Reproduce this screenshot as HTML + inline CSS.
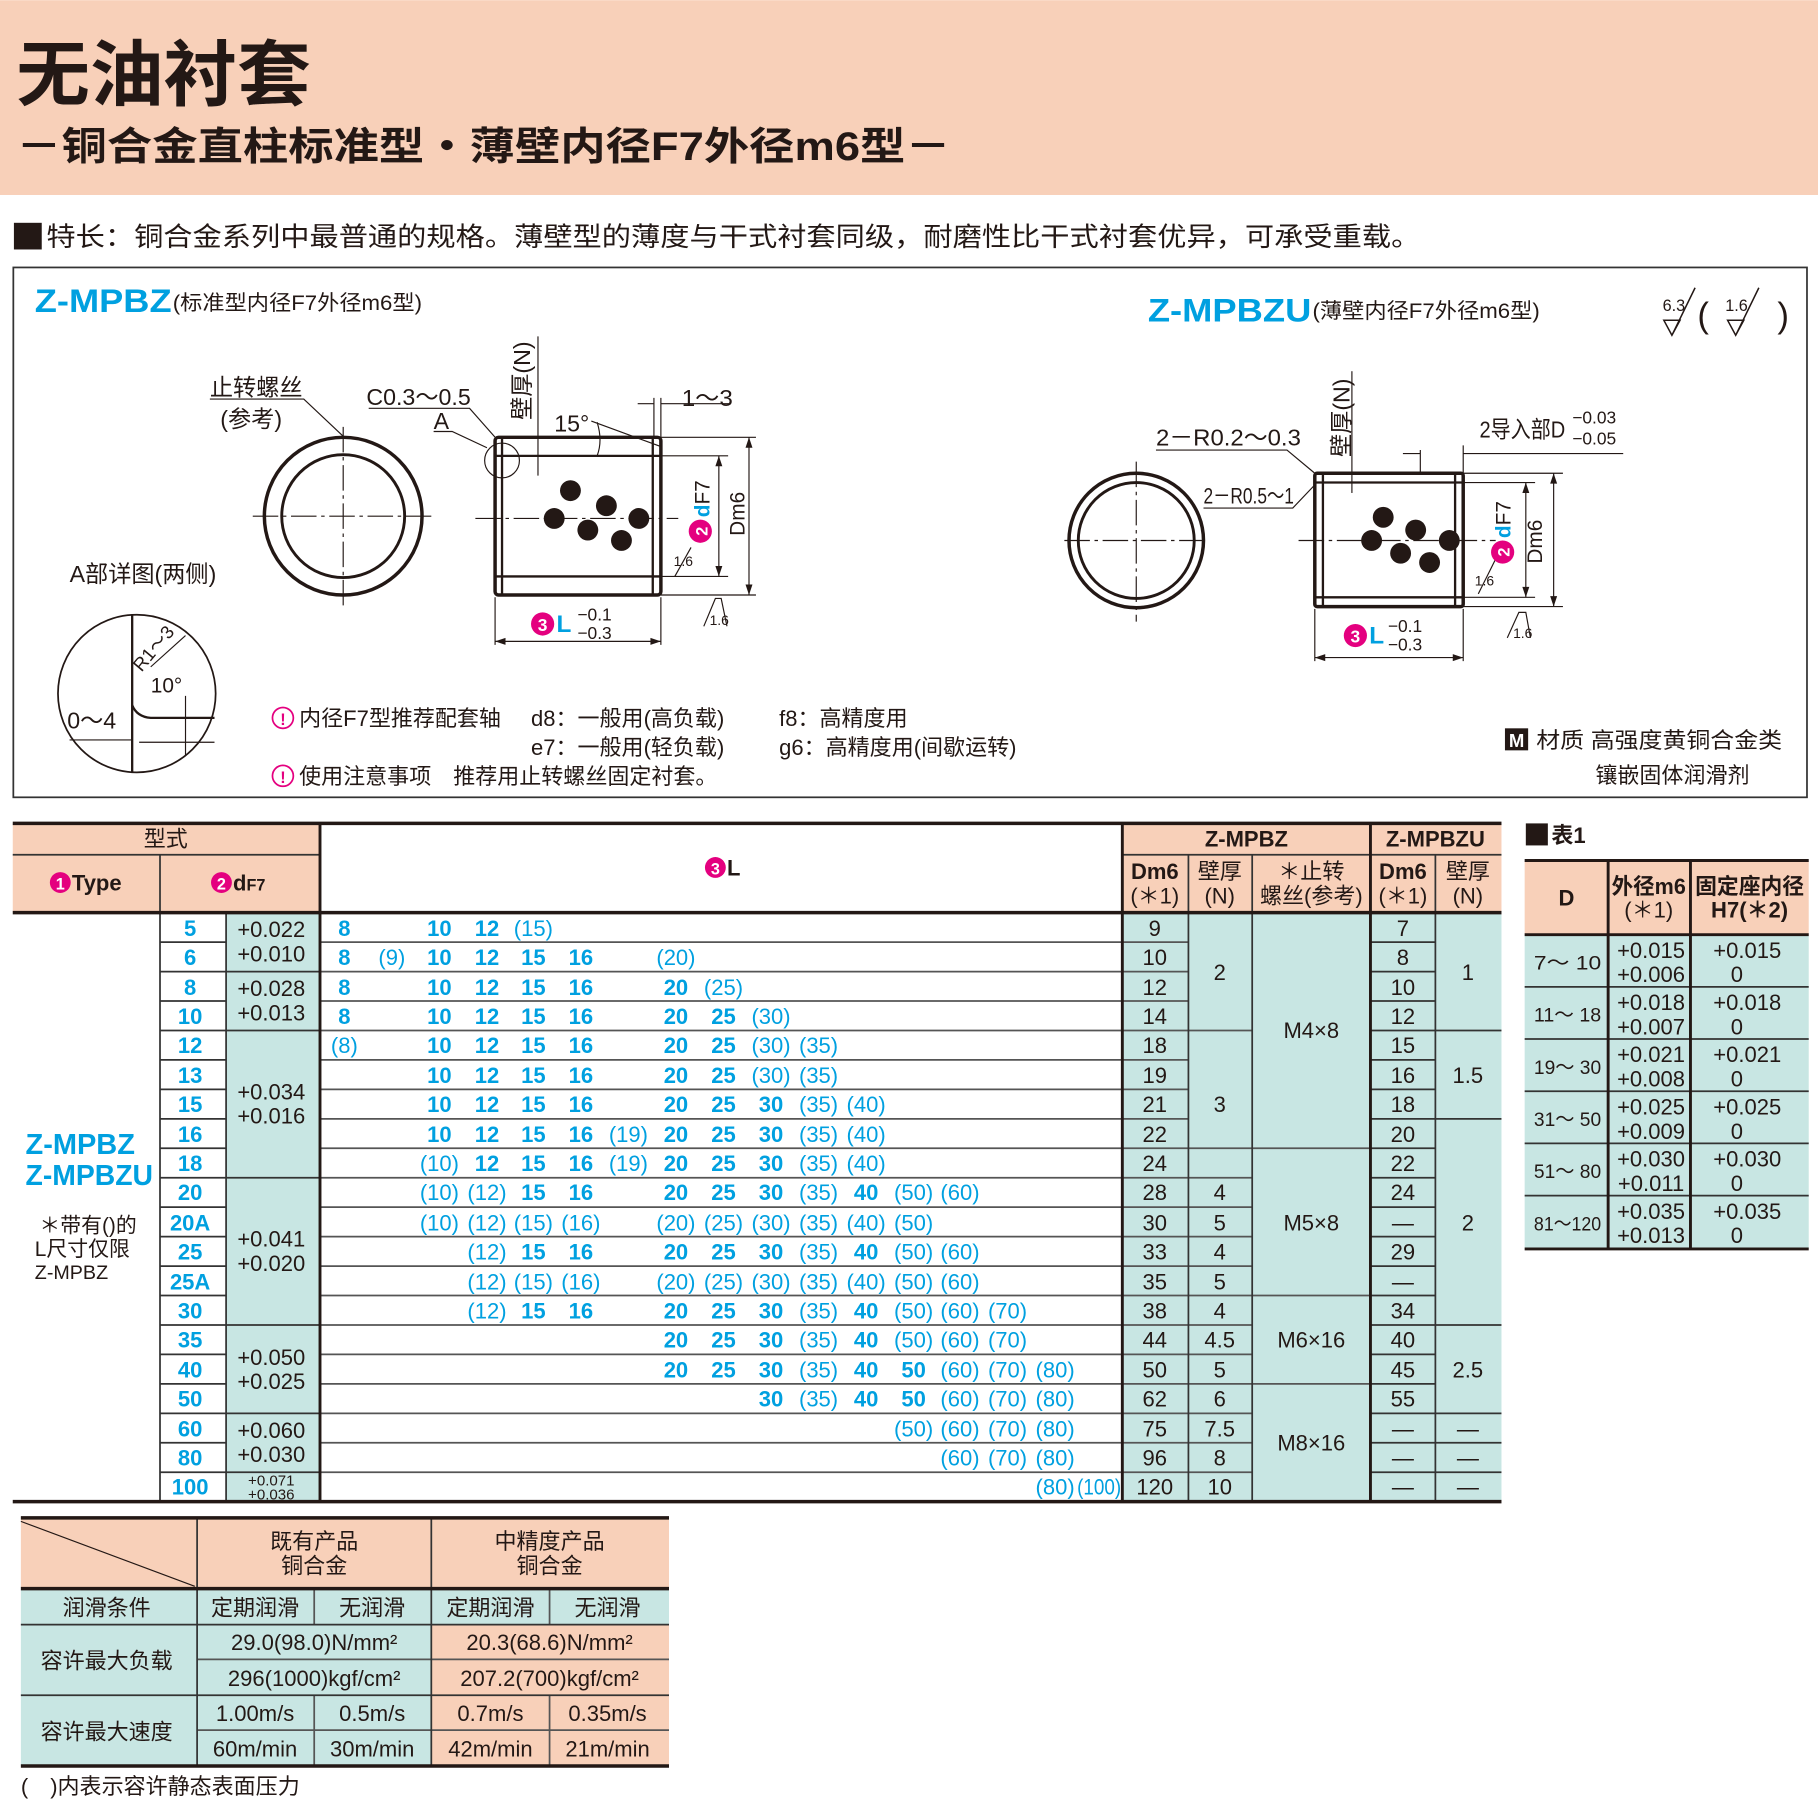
<!DOCTYPE html>
<html><head><meta charset="utf-8"><style>
html,body{margin:0;padding:0;background:#fff;}
svg{display:block;}
text{font-family:"Liberation Sans","Noto Sans CJK SC",sans-serif;}
.c{fill:#00a0e0;text-anchor:middle;font-size:19px;}
.b{font-weight:bold;}
.m{text-anchor:middle;}
</style></head><body>
<svg width="1818" height="1801" viewBox="0 0 1568 1553" xmlns="http://www.w3.org/2000/svg">
<!-- header -->
<rect x="0" y="0" width="1568" height="168" fill="#f8d0b9"/>
<text x="14" y="86" font-size="62" font-weight="bold" fill="#231815" textLength="254" lengthAdjust="spacingAndGlyphs">无油衬套</text>
<text x="14" y="138" font-size="34" font-weight="bold" fill="#231815" textLength="806" lengthAdjust="spacingAndGlyphs">－铜合金直柱标准型・薄壁内径F7外径m6型－</text>
<rect x="12" y="192" width="24" height="23" fill="#231815"/>
<text x="40" y="212" font-size="23" fill="#231815" textLength="1185" lengthAdjust="spacingAndGlyphs">特长：铜合金系列中最普通的规格。薄壁型的薄度与干式衬套同级，耐磨性比干式衬套优异，可承受重载。</text>
<!-- diagram box -->
<rect x="11.5" y="230.5" width="1547" height="457" fill="none" stroke="#333" stroke-width="1.5"/>
<text x="30" y="269" font-size="28" font-weight="bold" fill="#00a0e0" textLength="118" lengthAdjust="spacingAndGlyphs">Z-MPBZ</text>
<text x="149" y="267" font-size="18" fill="#231815" textLength="215" lengthAdjust="spacingAndGlyphs">(标准型内径F7外径m6型)</text>
<text x="990" y="277" font-size="28" font-weight="bold" fill="#00a0e0" textLength="141" lengthAdjust="spacingAndGlyphs">Z-MPBZU</text>
<text x="1132" y="274" font-size="18" fill="#231815" textLength="196" lengthAdjust="spacingAndGlyphs">(薄壁内径F7外径m6型)</text>
<!-- roughness -->
<g stroke="#231815" stroke-width="1.3" fill="none">
<path d="M1435 276 L1442 289 L1449 276 Z M1442 289 L1462 248"/>
<path d="M1490 276 L1497 289 L1504 276 Z M1497 289 L1517 248"/>
</g>
<text x="1434" y="268" font-size="14" fill="#231815">6.3</text>
<text x="1488" y="268" font-size="14" fill="#231815">1.6</text>
<text x="1464" y="282" font-size="30" fill="#231815">(</text>
<text x="1533" y="282" font-size="30" fill="#231815">)</text>

<!-- left diagram -->
<g stroke="#231815" fill="none">
<circle cx="296" cy="445" r="68" stroke-width="3"/>
<circle cx="296" cy="445" r="53" stroke-width="2.5"/>
<path d="M218 445 H374 M296 368 V523" stroke-width="1" stroke-dasharray="22,4,3,4"/>
<rect x="427" y="377" width="143" height="136" rx="3" stroke-width="3"/>
<path d="M427 393 H570 M427 497 H570 M433 377 V513 M563 377 V513" stroke-width="2"/>
<path d="M410 447 H585" stroke-width="1" stroke-dasharray="22,4,3,4"/>
<circle cx="433" cy="397" r="15" stroke-width="1"/>
<path d="M570 393 H628 M570 377 H652 M570 497 H628 M570 513 H652" stroke-width="1"/>
<path d="M620 393 V497 M646 377 V513" stroke-width="1"/>
<path d="M427 515 V556 M570 515 V556 M427 553 H570" stroke-width="1"/>
<path d="M464 290 V410" stroke-width="1"/>
<path d="M564 343 V377 M570 343 V377 M550 348 H564 M570 348 H630" stroke-width="1"/>
<path d="M318 352 H405 L427 377 M374 372 L390 372 L420 386" stroke-width="1"/>
<path d="M181 344 H262 L298 378" stroke-width="1"/>
<path d="M515 364 Q520 380 515 393" stroke-width="1"/>
<path d="M510 363 L570 385" stroke-width="1"/>
<path d="M607 540 L617 516 L622 516 L627 540" stroke-width="1"/>
<path d="M582 497 L596 472" stroke-width="1"/>
<!-- detail circle -->
<circle cx="118" cy="598" r="68" stroke-width="1.5"/>
<path d="M114 530 V666" stroke-width="2"/>
<path d="M114 608 Q118 618 130 619 L185 619" stroke-width="2"/>
<path d="M160 600 V652 M120 640 H185 M130 575 L160 548" stroke-width="1"/>
<path d="M60 638 H114" stroke-width="1"/>
</g>
<g fill="#231815">
<circle cx="492" cy="423" r="9"/><circle cx="523" cy="436" r="9"/><circle cx="478" cy="447" r="9"/>
<circle cx="507" cy="457" r="9"/><circle cx="536" cy="466" r="9"/><circle cx="551" cy="447" r="9"/>
<path d="M620 393 l-3 9 h6z M620 497 l-3 -9 h6z M646 377 l-3 9 h6z M646 513 l-3 -9 h6z M427 553 l9 -3 v6z M570 553 l-9 -3 v6z"/>
</g>
<text x="181" y="341" font-size="20" fill="#231815">止转螺丝</text>
<text x="190" y="368" font-size="20" fill="#231815">(参考)</text>
<text x="316" y="349" font-size="20" fill="#231815" textLength="90" lengthAdjust="spacingAndGlyphs">C0.3～0.5</text>
<text x="374" y="370" font-size="20" fill="#231815">A</text>
<text x="478" y="372" font-size="20" fill="#231815">15°</text>
<text x="588" y="350" font-size="20" fill="#231815" textLength="44" lengthAdjust="spacingAndGlyphs">1～3</text>
<text transform="translate(457,362) rotate(-90)" font-size="20" fill="#231815">壁厚(N)</text>
<text transform="translate(642,462) rotate(-90)" font-size="18" fill="#231815">Dm6</text>
<circle cx="604" cy="458" r="10" fill="#e4007f"/>
<text transform="translate(610,458) rotate(-90)" font-size="14" font-weight="bold" fill="#fff" class="m">2</text>
<text transform="translate(612,446) rotate(-90)" font-size="18" fill="#231815"><tspan fill="#00a0e0" font-weight="bold">d</tspan>F7</text>
<text x="581" y="488" font-size="12" fill="#231815">1.6</text>
<text x="612" y="539" font-size="12" fill="#231815">1.6</text>
<circle cx="468" cy="538" r="10" fill="#e4007f"/>
<text x="468" y="544" font-size="15" font-weight="bold" fill="#fff" class="m">3</text>
<text x="480" y="545" font-size="21" font-weight="bold" fill="#00a0e0">L</text>
<text x="498" y="535" font-size="15" fill="#231815">−0.1</text>
<text x="498" y="551" font-size="15" fill="#231815">−0.3</text>
<text x="60" y="502" font-size="20" fill="#231815">A部详图(两侧)</text>
<text transform="translate(122,580) rotate(-50)" font-size="16" fill="#231815">R1～3</text>
<text x="130" y="597" font-size="18" fill="#231815">10°</text>
<text x="58" y="628" font-size="20" fill="#231815">0～4</text>

<!-- notes -->
<g font-size="19" fill="#231815">
<circle cx="244" cy="619" r="9" fill="none" stroke="#e4007f" stroke-width="1.5"/>
<text x="244" y="625" font-size="14" font-weight="bold" fill="#e4007f" class="m">!</text>
<circle cx="244" cy="669" r="9" fill="none" stroke="#e4007f" stroke-width="1.5"/>
<text x="244" y="675" font-size="14" font-weight="bold" fill="#e4007f" class="m">!</text>
<text x="258" y="626">内径F7型推荐配套轴</text>
<text x="458" y="626">d8：一般用(高负载)</text>
<text x="458" y="651">e7：一般用(轻负载)</text>
<text x="672" y="626">f8：高精度用</text>
<text x="672" y="651">g6：高精度用(间歇运转)</text>
<text x="258" y="676">使用注意事项　推荐用止转螺丝固定衬套。</text>
<rect x="1298" y="628" width="20" height="19" fill="#231815"/>
<text x="1308" y="644" font-size="16" font-weight="bold" fill="#fff" class="m">M</text>
<text x="1325" y="645" textLength="212" lengthAdjust="spacingAndGlyphs">材质  高强度黄铜合金类</text>
<text x="1376" y="675">镶嵌固体润滑剂</text>
</g>

<!-- right diagram -->
<g stroke="#231815" fill="none">
<circle cx="980" cy="466" r="58" stroke-width="3"/>
<circle cx="980" cy="466" r="50" stroke-width="2.5"/>
<path d="M918 466 H1042 M980 398 V536" stroke-width="1" stroke-dasharray="22,4,3,4"/>
<rect x="1134" y="408" width="128" height="115" rx="2" stroke-width="3"/>
<path d="M1134 416 H1262 M1134 515 H1262 M1141 408 V523 M1255 408 V523" stroke-width="2"/>
<path d="M1120 466 H1290" stroke-width="1" stroke-dasharray="22,4,3,4"/>
<path d="M1262 416 H1324 M1262 408 H1348 M1262 515 H1324 M1262 523 H1348" stroke-width="1"/>
<path d="M1316 416 V515 M1340 408 V523" stroke-width="1"/>
<path d="M1134 525 V570 M1262 525 V570 M1134 567 H1262" stroke-width="1"/>
<path d="M1166 320 V425" stroke-width="1"/>
<path d="M1225 388 V408 M1262 384 V408 M1210 391 H1225 M1262 391 H1400" stroke-width="1"/>
<path d="M997 388 H1110 L1134 408 M1038 438 H1115 L1134 418" stroke-width="1"/>
<path d="M1300 550 L1310 528 L1316 528 L1320 550" stroke-width="1"/>
<path d="M1275 512 L1290 482" stroke-width="1"/>
</g>
<g fill="#231815">
<circle cx="1193" cy="446" r="9"/><circle cx="1221" cy="457" r="9"/><circle cx="1183" cy="466" r="9"/>
<circle cx="1250" cy="466" r="9"/><circle cx="1208" cy="477" r="9"/><circle cx="1233" cy="485" r="9"/>
<path d="M1316 416 l-3 9 h6z M1316 515 l-3 -9 h6z M1340 408 l-3 9 h6z M1340 523 l-3 -9 h6z M1134 567 l9 -3 v6z M1262 567 l-9 -3 v6z"/>
</g>
<text x="997" y="384" font-size="20" fill="#231815" textLength="125" lengthAdjust="spacingAndGlyphs">2－R0.2～0.3</text>
<text x="1038" y="434" font-size="19" fill="#231815" textLength="78" lengthAdjust="spacingAndGlyphs">2－R0.5～1</text>
<text transform="translate(1164,394) rotate(-90)" font-size="20" fill="#231815">壁厚(N)</text>
<text x="1276" y="377" font-size="20" fill="#231815" textLength="74" lengthAdjust="spacingAndGlyphs">2导入部D</text>
<text x="1356" y="365" font-size="15" fill="#231815">−0.03</text>
<text x="1356" y="383" font-size="15" fill="#231815">−0.05</text>
<text transform="translate(1330,486) rotate(-90)" font-size="18" fill="#231815">Dm6</text>
<circle cx="1296" cy="476" r="10" fill="#e4007f"/>
<text transform="translate(1302,476) rotate(-90)" font-size="14" font-weight="bold" fill="#fff" class="m">2</text>
<text transform="translate(1303,464) rotate(-90)" font-size="18" fill="#231815"><tspan fill="#00a0e0" font-weight="bold">d</tspan>F7</text>
<text x="1272" y="505" font-size="12" fill="#231815">1.6</text>
<text x="1305" y="550" font-size="12" fill="#231815">1.6</text>
<circle cx="1169" cy="548" r="10" fill="#e4007f"/>
<text x="1169" y="554" font-size="15" font-weight="bold" fill="#fff" class="m">3</text>
<text x="1181" y="555" font-size="21" font-weight="bold" fill="#00a0e0">L</text>
<text x="1197" y="545" font-size="15" fill="#231815">−0.1</text>
<text x="1197" y="561" font-size="15" fill="#231815">−0.3</text>

<!-- MAIN TABLE -->
<rect x="11" y="710" width="265" height="77" fill="#f8d0b9"/>
<rect x="968" y="710" width="327" height="77" fill="#f8d0b9"/>
<rect x="276" y="710" width="692" height="77" fill="#fff"/>
<rect x="195" y="787" width="81" height="508" fill="#c8e6e3"/>
<rect x="968" y="787" width="327" height="508" fill="#c8e6e3"/>
<g stroke="#333" stroke-width="1.5">
<path d="M11 737 H276 M968 737 H1295"/>
<path d="M138 812.4 H195 M138 837.8 H276 M138 863.2 H195 M138 888.6 H276 M138 914 H195 M138 939.4 H195 M138 964.8 H195 M138 990.2 H195 M138 1015.6 H276 M138 1041 H195 M138 1066.4 H195 M138 1091.8 H195 M138 1117.2 H195 M138 1142.6 H276 M138 1168 H195 M138 1193.4 H195 M138 1218.8 H276 M138 1244.2 H195 M138 1269.6 H276"/>
<path d="M276 812.4 H1025 M276 837.8 H1025 M276 863.2 H1025 M276 888.6 H1080 M276 914 H1025 M276 939.4 H1025 M276 964.8 H1025 M276 990.2 H1182 M276 1015.6 H1080 M276 1041 H1080 M276 1066.4 H1080 M276 1091.8 H1080 M276 1117.2 H1182 M276 1142.6 H1080 M276 1168 H1080 M276 1193.4 H1182 M276 1218.8 H1080 M276 1244.2 H1080 M276 1269.6 H1080" stroke="#555"/>
<path d="M1182 812.4 H1238 M1182 837.8 H1238 M1182 863.2 H1238 M1182 888.6 H1295 M1182 914 H1238 M1182 939.4 H1238 M1182 964.8 H1295 M1182 990.2 H1238 M1182 1015.6 H1238 M1182 1041 H1238 M1182 1066.4 H1238 M1182 1091.8 H1238 M1182 1117.2 H1238 M1182 1142.6 H1295 M1182 1168 H1238 M1182 1193.4 H1238 M1182 1218.8 H1295 M1182 1244.2 H1295 M1182 1269.6 H1295"/>
<path d="M138 737 V1295 M195 787 V1295 M1025 737 V1295 M1080 737 V1295 M1238 737 V1295"/>
</g>
<g stroke="#231815" stroke-width="2.5">
<path d="M276 710 V1295 M968 710 V1295 M1182 710 V1295"/>
</g>
<g stroke="#231815" stroke-width="3">
<path d="M11 710 H1295 M11 787 H1295 M11 1295 H1295"/>
</g>
<g font-size="19" fill="#231815">
<text x="143" y="730" class="m">型式</text>
<circle cx="52" cy="761" r="9" fill="#e4007f"/><text x="52" y="767" font-size="14" font-weight="bold" fill="#fff" class="m">1</text>
<text x="62" y="768" font-weight="bold">Type</text>
<circle cx="191" cy="761" r="9" fill="#e4007f"/><text x="191" y="767" font-size="14" font-weight="bold" fill="#fff" class="m">2</text>
<text x="201" y="768" font-weight="bold">d<tspan font-size="14">F7</tspan></text>
<circle cx="617" cy="748" r="9" fill="#e4007f"/><text x="617" y="754" font-size="14" font-weight="bold" fill="#fff" class="m">3</text>
<text x="627" y="755" font-weight="bold">L</text>
<text x="1075" y="730" font-weight="bold" class="m">Z-MPBZ</text>
<text x="1238" y="730" font-weight="bold" class="m">Z-MPBZU</text>
<text x="996" y="758" font-weight="bold" class="m">Dm6</text><text x="996" y="779" class="m">(＊1)</text>
<text x="1052" y="758" class="m">壁厚</text><text x="1052" y="779" class="m">(N)</text>
<text x="1131" y="758" class="m">＊止转</text><text x="1131" y="779" class="m">螺丝(参考)</text>
<text x="1210" y="758" font-weight="bold" class="m">Dm6</text><text x="1210" y="779" class="m">(＊1)</text>
<text x="1266" y="758" class="m">壁厚</text><text x="1266" y="779" class="m">(N)</text>
</g>
<text x="22" y="995" font-size="25" font-weight="bold" fill="#00a0e0">Z-MPBZ</text>
<text x="22" y="1022" font-size="25" font-weight="bold" fill="#00a0e0" textLength="110" lengthAdjust="spacingAndGlyphs">Z-MPBZU</text>
<text x="34" y="1063" font-size="18" fill="#231815">＊带有()的</text>
<text x="30" y="1083" font-size="18" fill="#231815">L尺寸仅限</text>
<text x="30" y="1103" font-size="17" fill="#231815">Z-MPBZ</text>
<!-- sizes -->
<g>
<text x="164" y="807" class="c b">5</text><text x="164" y="832" class="c b">6</text><text x="164" y="858" class="c b">8</text><text x="164" y="883" class="c b">10</text><text x="164" y="908" class="c b">12</text><text x="164" y="934" class="c b">13</text><text x="164" y="959" class="c b">15</text><text x="164" y="985" class="c b">16</text><text x="164" y="1010" class="c b">18</text><text x="164" y="1035" class="c b">20</text><text x="164" y="1061" class="c b">20A</text><text x="164" y="1086" class="c b">25</text><text x="164" y="1112" class="c b">25A</text><text x="164" y="1137" class="c b">30</text><text x="164" y="1162" class="c b">35</text><text x="164" y="1188" class="c b">40</text><text x="164" y="1213" class="c b">50</text><text x="164" y="1239" class="c b">60</text><text x="164" y="1264" class="c b">80</text><text x="164" y="1289" class="c b">100</text>
</g>
<!-- tolerances -->
<g font-size="19" fill="#231815">
<text x="234" y="808" class="m">+0.022</text><text x="234" y="829" class="m">+0.010</text>
<text x="234" y="859" class="m">+0.028</text><text x="234" y="880" class="m">+0.013</text>
<text x="234" y="948" class="m">+0.034</text><text x="234" y="969" class="m">+0.016</text>
<text x="234" y="1075" class="m">+0.041</text><text x="234" y="1096" class="m">+0.020</text>
<text x="234" y="1177" class="m">+0.050</text><text x="234" y="1198" class="m">+0.025</text>
<text x="234" y="1240" class="m">+0.060</text><text x="234" y="1261" class="m">+0.030</text>
<text x="234" y="1281" font-size="13" class="m">+0.071</text><text x="234" y="1293" font-size="13" class="m">+0.036</text>
</g>
<!-- L values -->
<g>
<text x="297" y="807" class="c b">8</text><text x="379" y="807" class="c b">10</text><text x="420" y="807" class="c b">12</text><text x="460" y="807" class="c">(15)</text>
<text x="297" y="832" class="c b">8</text><text x="338" y="832" class="c">(9)</text><text x="379" y="832" class="c b">10</text><text x="420" y="832" class="c b">12</text><text x="460" y="832" class="c b">15</text><text x="501" y="832" class="c b">16</text><text x="583" y="832" class="c">(20)</text>
<text x="297" y="858" class="c b">8</text><text x="379" y="858" class="c b">10</text><text x="420" y="858" class="c b">12</text><text x="460" y="858" class="c b">15</text><text x="501" y="858" class="c b">16</text><text x="583" y="858" class="c b">20</text><text x="624" y="858" class="c">(25)</text>
<text x="297" y="883" class="c b">8</text><text x="379" y="883" class="c b">10</text><text x="420" y="883" class="c b">12</text><text x="460" y="883" class="c b">15</text><text x="501" y="883" class="c b">16</text><text x="583" y="883" class="c b">20</text><text x="624" y="883" class="c b">25</text><text x="665" y="883" class="c">(30)</text>
<text x="297" y="908" class="c">(8)</text><text x="379" y="908" class="c b">10</text><text x="420" y="908" class="c b">12</text><text x="460" y="908" class="c b">15</text><text x="501" y="908" class="c b">16</text><text x="583" y="908" class="c b">20</text><text x="624" y="908" class="c b">25</text><text x="665" y="908" class="c">(30)</text><text x="706" y="908" class="c">(35)</text>
<text x="379" y="934" class="c b">10</text><text x="420" y="934" class="c b">12</text><text x="460" y="934" class="c b">15</text><text x="501" y="934" class="c b">16</text><text x="583" y="934" class="c b">20</text><text x="624" y="934" class="c b">25</text><text x="665" y="934" class="c">(30)</text><text x="706" y="934" class="c">(35)</text>
<text x="379" y="959" class="c b">10</text><text x="420" y="959" class="c b">12</text><text x="460" y="959" class="c b">15</text><text x="501" y="959" class="c b">16</text><text x="583" y="959" class="c b">20</text><text x="624" y="959" class="c b">25</text><text x="665" y="959" class="c b">30</text><text x="706" y="959" class="c">(35)</text><text x="747" y="959" class="c">(40)</text>
<text x="379" y="985" class="c b">10</text><text x="420" y="985" class="c b">12</text><text x="460" y="985" class="c b">15</text><text x="501" y="985" class="c b">16</text><text x="542" y="985" class="c">(19)</text><text x="583" y="985" class="c b">20</text><text x="624" y="985" class="c b">25</text><text x="665" y="985" class="c b">30</text><text x="706" y="985" class="c">(35)</text><text x="747" y="985" class="c">(40)</text>
<text x="379" y="1010" class="c">(10)</text><text x="420" y="1010" class="c b">12</text><text x="460" y="1010" class="c b">15</text><text x="501" y="1010" class="c b">16</text><text x="542" y="1010" class="c">(19)</text><text x="583" y="1010" class="c b">20</text><text x="624" y="1010" class="c b">25</text><text x="665" y="1010" class="c b">30</text><text x="706" y="1010" class="c">(35)</text><text x="747" y="1010" class="c">(40)</text>
<text x="379" y="1035" class="c">(10)</text><text x="420" y="1035" class="c">(12)</text><text x="460" y="1035" class="c b">15</text><text x="501" y="1035" class="c b">16</text><text x="583" y="1035" class="c b">20</text><text x="624" y="1035" class="c b">25</text><text x="665" y="1035" class="c b">30</text><text x="706" y="1035" class="c">(35)</text><text x="747" y="1035" class="c b">40</text><text x="788" y="1035" class="c">(50)</text><text x="828" y="1035" class="c">(60)</text>
<text x="379" y="1061" class="c">(10)</text><text x="420" y="1061" class="c">(12)</text><text x="460" y="1061" class="c">(15)</text><text x="501" y="1061" class="c">(16)</text><text x="583" y="1061" class="c">(20)</text><text x="624" y="1061" class="c">(25)</text><text x="665" y="1061" class="c">(30)</text><text x="706" y="1061" class="c">(35)</text><text x="747" y="1061" class="c">(40)</text><text x="788" y="1061" class="c">(50)</text>
<text x="420" y="1086" class="c">(12)</text><text x="460" y="1086" class="c b">15</text><text x="501" y="1086" class="c b">16</text><text x="583" y="1086" class="c b">20</text><text x="624" y="1086" class="c b">25</text><text x="665" y="1086" class="c b">30</text><text x="706" y="1086" class="c">(35)</text><text x="747" y="1086" class="c b">40</text><text x="788" y="1086" class="c">(50)</text><text x="828" y="1086" class="c">(60)</text>
<text x="420" y="1112" class="c">(12)</text><text x="460" y="1112" class="c">(15)</text><text x="501" y="1112" class="c">(16)</text><text x="583" y="1112" class="c">(20)</text><text x="624" y="1112" class="c">(25)</text><text x="665" y="1112" class="c">(30)</text><text x="706" y="1112" class="c">(35)</text><text x="747" y="1112" class="c">(40)</text><text x="788" y="1112" class="c">(50)</text><text x="828" y="1112" class="c">(60)</text>
<text x="420" y="1137" class="c">(12)</text><text x="460" y="1137" class="c b">15</text><text x="501" y="1137" class="c b">16</text><text x="583" y="1137" class="c b">20</text><text x="624" y="1137" class="c b">25</text><text x="665" y="1137" class="c b">30</text><text x="706" y="1137" class="c">(35)</text><text x="747" y="1137" class="c b">40</text><text x="788" y="1137" class="c">(50)</text><text x="828" y="1137" class="c">(60)</text><text x="869" y="1137" class="c">(70)</text>
<text x="583" y="1162" class="c b">20</text><text x="624" y="1162" class="c b">25</text><text x="665" y="1162" class="c b">30</text><text x="706" y="1162" class="c">(35)</text><text x="747" y="1162" class="c b">40</text><text x="788" y="1162" class="c">(50)</text><text x="828" y="1162" class="c">(60)</text><text x="869" y="1162" class="c">(70)</text>
<text x="583" y="1188" class="c b">20</text><text x="624" y="1188" class="c b">25</text><text x="665" y="1188" class="c b">30</text><text x="706" y="1188" class="c">(35)</text><text x="747" y="1188" class="c b">40</text><text x="788" y="1188" class="c b">50</text><text x="828" y="1188" class="c">(60)</text><text x="869" y="1188" class="c">(70)</text><text x="910" y="1188" class="c">(80)</text>
<text x="665" y="1213" class="c b">30</text><text x="706" y="1213" class="c">(35)</text><text x="747" y="1213" class="c b">40</text><text x="788" y="1213" class="c b">50</text><text x="828" y="1213" class="c">(60)</text><text x="869" y="1213" class="c">(70)</text><text x="910" y="1213" class="c">(80)</text>
<text x="788" y="1239" class="c">(50)</text><text x="828" y="1239" class="c">(60)</text><text x="869" y="1239" class="c">(70)</text><text x="910" y="1239" class="c">(80)</text>
<text x="828" y="1264" class="c">(60)</text><text x="869" y="1264" class="c">(70)</text><text x="910" y="1264" class="c">(80)</text>
<text x="910" y="1289" class="c">(80)</text><text x="948" y="1289" class="c" textLength="38" lengthAdjust="spacingAndGlyphs">(100)</text>
</g>
<!-- right cols -->
<g font-size="19" fill="#231815">
<text x="996" y="807" class="m">9</text><text x="996" y="832" class="m">10</text><text x="996" y="858" class="m">12</text><text x="996" y="883" class="m">14</text><text x="996" y="908" class="m">18</text><text x="996" y="934" class="m">19</text><text x="996" y="959" class="m">21</text><text x="996" y="985" class="m">22</text><text x="996" y="1010" class="m">24</text><text x="996" y="1035" class="m">28</text><text x="996" y="1061" class="m">30</text><text x="996" y="1086" class="m">33</text><text x="996" y="1112" class="m">35</text><text x="996" y="1137" class="m">38</text><text x="996" y="1162" class="m">44</text><text x="996" y="1188" class="m">50</text><text x="996" y="1213" class="m">62</text><text x="996" y="1239" class="m">75</text><text x="996" y="1264" class="m">96</text><text x="996" y="1289" class="m">120</text>
<text x="1052" y="845" class="m">2</text><text x="1052" y="959" class="m">3</text>
<text x="1052" y="1035" class="m">4</text><text x="1052" y="1061" class="m">5</text><text x="1052" y="1086" class="m">4</text><text x="1052" y="1112" class="m">5</text><text x="1052" y="1137" class="m">4</text><text x="1052" y="1162" class="m">4.5</text><text x="1052" y="1188" class="m">5</text><text x="1052" y="1213" class="m">6</text><text x="1052" y="1239" class="m">7.5</text><text x="1052" y="1264" class="m">8</text><text x="1052" y="1289" class="m">10</text>
<text x="1131" y="895" class="m">M4×8</text><text x="1131" y="1061" class="m">M5×8</text><text x="1131" y="1162" class="m">M6×16</text><text x="1131" y="1251" class="m">M8×16</text>
<text x="1210" y="807" class="m">7</text><text x="1210" y="832" class="m">8</text><text x="1210" y="858" class="m">10</text><text x="1210" y="883" class="m">12</text><text x="1210" y="908" class="m">15</text><text x="1210" y="934" class="m">16</text><text x="1210" y="959" class="m">18</text><text x="1210" y="985" class="m">20</text><text x="1210" y="1010" class="m">22</text><text x="1210" y="1035" class="m">24</text><text x="1210" y="1061" class="m">—</text><text x="1210" y="1086" class="m">29</text><text x="1210" y="1112" class="m">—</text><text x="1210" y="1137" class="m">34</text><text x="1210" y="1162" class="m">40</text><text x="1210" y="1188" class="m">45</text><text x="1210" y="1213" class="m">55</text><text x="1210" y="1239" class="m">—</text><text x="1210" y="1264" class="m">—</text><text x="1210" y="1289" class="m">—</text>
<text x="1266" y="845" class="m">1</text><text x="1266" y="934" class="m">1.5</text><text x="1266" y="1061" class="m">2</text><text x="1266" y="1188" class="m">2.5</text>
<text x="1266" y="1239" class="m">—</text><text x="1266" y="1264" class="m">—</text><text x="1266" y="1289" class="m">—</text>
</g>

<!-- TABLE 1 -->
<rect x="1316" y="710" width="19" height="19" fill="#231815"/>
<text x="1338" y="727" font-size="19" font-weight="bold" fill="#231815">表1</text>
<rect x="1315" y="742" width="245" height="64" fill="#f8d0b9"/>
<rect x="1315" y="806" width="245" height="271" fill="#c8e6e3"/>
<g stroke="#333" stroke-width="1.5">
<path d="M1315 851 H1560 M1315 896 H1560 M1315 941 H1560 M1315 986 H1560 M1315 1031 H1560"/>
</g>
<g stroke="#231815" stroke-width="2.5">
<path d="M1315 742 H1560 M1315 806 H1560 M1315 1077 H1560 M1387 742 V1077 M1458 742 V1077"/>
</g>
<g font-size="19" fill="#231815">
<text x="1351" y="781" font-weight="bold" class="m">D</text>
<text x="1422" y="771" class="m" font-weight="bold" textLength="64" lengthAdjust="spacingAndGlyphs">外径m6</text><text x="1422" y="791" class="m">(＊1)</text>
<text x="1509" y="771" class="m" font-weight="bold" textLength="94" lengthAdjust="spacingAndGlyphs">固定座内径</text><text x="1509" y="791" class="m" font-weight="bold">H7(＊2)</text>
<g font-size="17">
<text x="1323" y="836" textLength="58" lengthAdjust="spacingAndGlyphs">7～ 10</text>
<text x="1323" y="881" textLength="58" lengthAdjust="spacingAndGlyphs">11～ 18</text>
<text x="1323" y="926" textLength="58" lengthAdjust="spacingAndGlyphs">19～ 30</text>
<text x="1323" y="971" textLength="58" lengthAdjust="spacingAndGlyphs">31～ 50</text>
<text x="1323" y="1016" textLength="58" lengthAdjust="spacingAndGlyphs">51～ 80</text>
<text x="1323" y="1061" textLength="58" lengthAdjust="spacingAndGlyphs">81～120</text>
</g>
<text x="1424" y="826" class="m">+0.015</text><text x="1424" y="847" class="m">+0.006</text>
<text x="1424" y="871" class="m">+0.018</text><text x="1424" y="892" class="m">+0.007</text>
<text x="1424" y="916" class="m">+0.021</text><text x="1424" y="937" class="m">+0.008</text>
<text x="1424" y="961" class="m">+0.025</text><text x="1424" y="982" class="m">+0.009</text>
<text x="1424" y="1006" class="m">+0.030</text><text x="1424" y="1027" class="m">+0.011</text>
<text x="1424" y="1051" class="m">+0.035</text><text x="1424" y="1072" class="m">+0.013</text>
<text x="1507" y="826" class="m">+0.015</text><text x="1498" y="847" class="m">0</text>
<text x="1507" y="871" class="m">+0.018</text><text x="1498" y="892" class="m">0</text>
<text x="1507" y="916" class="m">+0.021</text><text x="1498" y="937" class="m">0</text>
<text x="1507" y="961" class="m">+0.025</text><text x="1498" y="982" class="m">0</text>
<text x="1507" y="1006" class="m">+0.030</text><text x="1498" y="1027" class="m">0</text>
<text x="1507" y="1051" class="m">+0.035</text><text x="1498" y="1072" class="m">0</text>
</g>

<!-- BOTTOM TABLE -->
<rect x="18" y="1308" width="559" height="62" fill="#f8d0b9"/>
<rect x="18" y="1370" width="559" height="153" fill="#c8e6e3"/>
<rect x="372" y="1401" width="205" height="122" fill="#f8d0b9"/>
<g stroke="#555" stroke-width="1.5">
<path d="M170 1431 H577 M170 1492 H577 M271 1370 V1401 M474 1370 V1401 M271 1462 V1523 M474 1462 V1523"/>
<path d="M18 1401 H577 M18 1462 H577 M170 1308 V1523 M372 1308 V1523" stroke="#333"/>
<path d="M18 1312 L168 1368" stroke="#231815" stroke-width="1"/>
</g>
<g stroke="#231815" stroke-width="3">
<path d="M18 1309 H577 M18 1370 H577 M18 1523 H577"/>
</g>
<g font-size="19" fill="#231815">
<text x="271" y="1336" class="m">既有产品</text><text x="271" y="1357" class="m">铜合金</text>
<text x="474" y="1336" class="m">中精度产品</text><text x="474" y="1357" class="m">铜合金</text>
<text x="92" y="1393" class="m">润滑条件</text>
<text x="220" y="1393" class="m">定期润滑</text><text x="321" y="1393" class="m">无润滑</text>
<text x="423" y="1393" class="m">定期润滑</text><text x="524" y="1393" class="m">无润滑</text>
<text x="92" y="1439" class="m">容许最大负载</text>
<text x="92" y="1500" class="m">容许最大速度</text>
<text x="271" y="1423" class="m">29.0(98.0)N/mm²</text><text x="474" y="1423" class="m">20.3(68.6)N/mm²</text>
<text x="271" y="1454" class="m">296(1000)kgf/cm²</text><text x="474" y="1454" class="m">207.2(700)kgf/cm²</text>
<text x="220" y="1484" class="m">1.00m/s</text><text x="321" y="1484" class="m">0.5m/s</text><text x="423" y="1484" class="m">0.7m/s</text><text x="524" y="1484" class="m">0.35m/s</text>
<text x="220" y="1515" class="m">60m/min</text><text x="321" y="1515" class="m">30m/min</text><text x="423" y="1515" class="m">42m/min</text><text x="524" y="1515" class="m">21m/min</text>
<text x="18" y="1547">(　)内表示容许静态表面压力</text>
</g>
</svg>
</body></html>
